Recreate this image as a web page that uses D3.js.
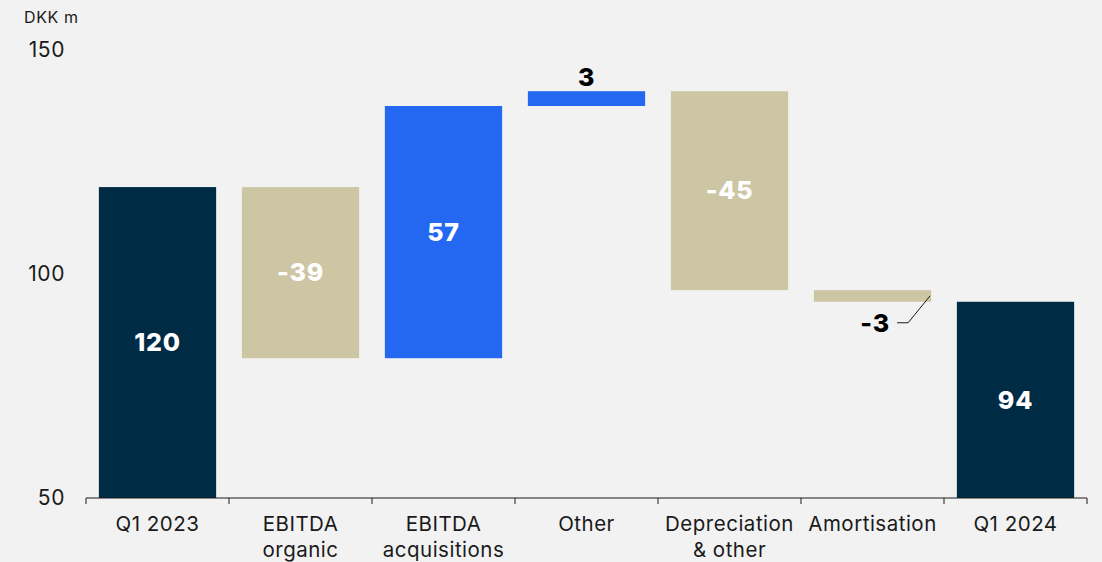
<!DOCTYPE html>
<html lang="en">
<head>
<meta charset="utf-8">
<title>Waterfall DKK m</title>
<script src="https://d3js.org/d3.v7.min.js"></script>
<style>
  body { margin: 0; background: #f2f2f2; }
  svg { display: block; font-family: Inter, "Noto Sans", sans-serif; }
</style>
</head>
<body>
<div id="chart"></div>
<script>
// categories (multi-line labels split by "|")
var categories = ["Q1 2023", "EBITDA|organic", "EBITDA|acquisitions", "Other", "Depreciation|& other", "Amortisation", "Q1 2024"];
// first and last are totals, the rest are steps
var kinds = ["total", "step", "step", "step", "step", "step", "total"];
var values = [119.4, -38.2, 56.3, 3.3, -44.4, -2.6, 93.8];
var valueLabels = ["120", "-39", "57", "3", "-45", "-3", "94"];
var yTicks = [50, 100, 150];

var W = 1102, H = 562;
var margin = {top: 50, right: 15, bottom: 64, left: 86};
var width = W - margin.left - margin.right,
    height = H - margin.top - margin.bottom;

var colors = {total: "#002b45", up: "#2468f2", down: "#cdc6a5"};

// build the running bars
var bars = [], run = 0;
values.forEach(function(v, i) {
  var lo, hi, fill;
  if (kinds[i] == "total") { lo = 50; hi = v; run = v; fill = colors.total; }
  else {
    var next = run + v;
    lo = Math.min(run, next); hi = Math.max(run, next);
    fill = v >= 0 ? colors.up : colors.down;
    run = next;
  }
  bars.push({cat: categories[i], lo: lo, hi: hi, fill: fill, label: valueLabels[i], i: i});
});

var svg = d3.select("#chart").append("svg")
    .attr("width", W).attr("height", H);
svg.append("rect").attr("width", W).attr("height", H).attr("fill", "#f2f2f2");

var g = svg.append("g").attr("transform", "translate(" + margin.left + "," + margin.top + ")");

var x = d3.scaleBand().domain(categories).range([0, width]).paddingInner(0.18).paddingOuter(0.09);
var y = d3.scaleLinear().domain([50, 150]).range([height, 0]);

// unit label
svg.append("text").attr("x", 24).attr("y", 23).text("DKK m")
  .style("font-size", "16px").style("letter-spacing", "0.6px").attr("fill", "#1a1a1a");

// y tick labels
g.selectAll(".ytick").data(yTicks).enter().append("text")
  .attr("x", -21).attr("y", function(d) { return y(d); })
  .attr("dy", "0.35em").attr("text-anchor", "end")
  .style("font-size", "21px").style("letter-spacing", "0.6px").attr("fill", "#1a1a1a")
  .text(function(d) { return d; });

// bars
g.selectAll(".bar").data(bars).enter().append("rect")
  .attr("x", function(d) { return x(d.cat); })
  .attr("width", x.bandwidth())
  .attr("y", function(d) { return y(d.hi); })
  .attr("height", function(d) { return y(d.lo) - y(d.hi); })
  .attr("fill", function(d) { return d.fill; });

// x axis line with ticks at category boundaries
var step = x.step();
var bounds = d3.range(categories.length + 1).map(function(i) { return i * step; });
g.append("line").attr("x1", 0).attr("x2", width).attr("y1", height).attr("y2", height)
  .attr("stroke", "#1a1a1a").attr("stroke-width", 1);
g.selectAll(".xtick").data(bounds).enter().append("line")
  .attr("x1", function(d) { return d; }).attr("x2", function(d) { return d; })
  .attr("y1", height).attr("y2", height + 6)
  .attr("stroke", "#1a1a1a").attr("stroke-width", 1);

// category labels
var cl = g.selectAll(".cat").data(categories).enter().append("text")
  .attr("text-anchor", "middle").style("font-size", "20.5px").style("letter-spacing", "0.5px")
  .attr("fill", "#1a1a1a")
  .attr("transform", function(d) { return "translate(" + (x(d) + x.bandwidth() / 2) + "," + (height + 33) + ")"; });
cl.selectAll("tspan").data(function(d) { return d.split("|"); }).enter().append("tspan")
  .attr("x", 0).attr("dy", function(d, i) { return i ? 26 : 0; })
  .text(function(d) { return d; });

// value labels
bars.forEach(function(d) {
  var cx = x(d.cat) + x.bandwidth() / 2;
  var small = (y(d.lo) - y(d.hi)) < 30;
  var t = g.append("text").attr("text-anchor", "middle")
    .style("font-size", "25px").style("font-weight", "800").style("letter-spacing", "0.8px")
    .attr("dy", "0.35em").text(d.label);
  if (!small) {
    t.attr("x", cx).attr("y", (y(d.lo) + y(d.hi)) / 2).attr("fill", "#fff");
  } else if (values[d.i] >= 0) {
    t.attr("x", cx).attr("y", y(d.hi) - 14).attr("fill", "#000");
  } else {
    // label below-left with leader line
    var ex = x(d.cat) + x.bandwidth();
    var ly = y(d.lo) + 21;
    t.attr("x", ex - 56).attr("y", ly).attr("fill", "#000");
    g.append("path")
      .attr("d", d3.line()([[ex - 1, y(d.lo) - 6], [ex - 23, ly], [ex - 34, ly]]))
      .attr("fill", "none").attr("stroke", "#1a1a1a").attr("stroke-width", 1);
  }
});
</script>
</body>
</html>
